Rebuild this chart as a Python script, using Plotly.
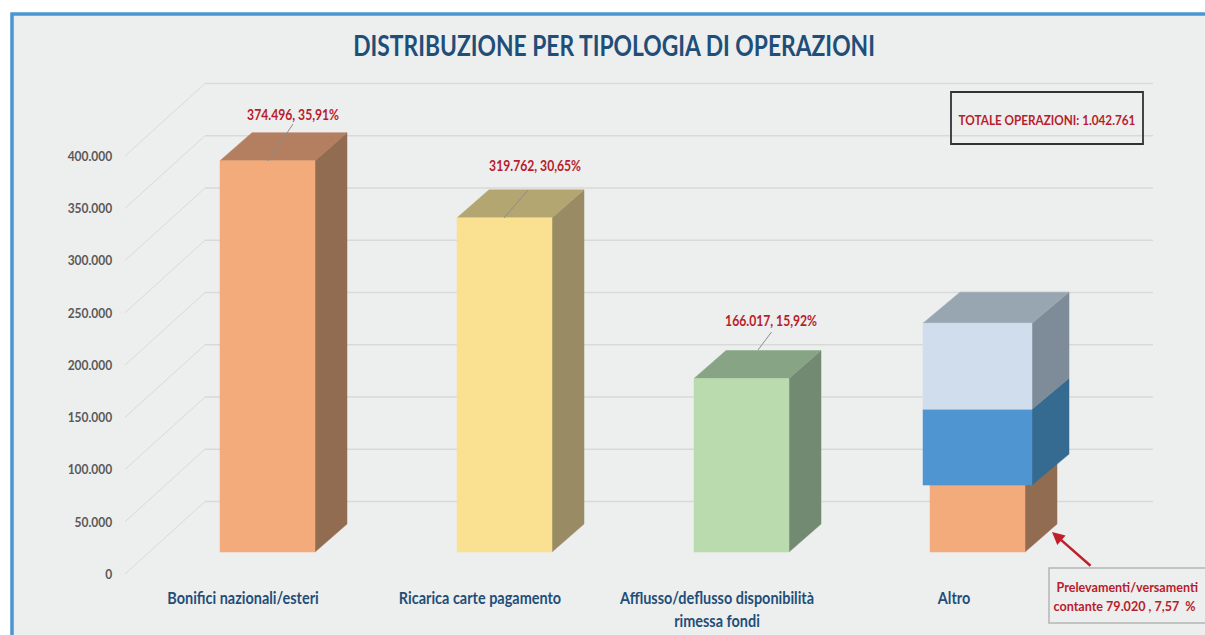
import plotly.graph_objects as go

# ---------- data ----------
categories = ["Bonifici nazionali/esteri", "Ricarica carte pagamento",
              "Afflusso/deflusso disponibilità<br>rimessa fondi", "Altro"]
single_values = [374496, 319762, 166017]
single_labels = ["374.496, 35,91%", "319.762, 30,65%", "166.017, 15,92%"]
altro_segments = [64000, 72700, 82300]   # heights
axis_values = [0, 50000, 100000, 150000, 200000, 250000, 300000, 350000, 400000]
axis_labels = ["0", "50.000", "100.000", "150.000", "200.000", "250.000", "300.000", "350.000", "400.000"]
title_text = "DISTRIBUZIONE PER TIPOLOGIA DI OPERAZIONI"
total_text = "TOTALE OPERAZIONI: 1.042.761"
note_lines = ["Prelevamenti/versamenti", "contante 79.020 , 7,57  %"]

# ---------- styles ----------
single_faces = [("#f4ab7c", "#926c50", "#b47f60"),
                ("#fae191", "#998c64", "#b4a671"),
                ("#b9dbae", "#728a72", "#87a585")]
altro_faces = [("#f4ab7c", "#926c50", "#b47f60"),
               ("#4f95d2", "#356b90", "#356b90"),
               ("#d0dded", "#7e8b98", "#98a6b2")]
FONT = "Lato"
RED = "#b81d2c"
NAVY = "#1f4e79"
W, H = 1205, 635
L, B = 125, 58
PX_X = 237.0
PX_Y = 1.045 / 1000


def X(px):
    return (px - 243) / PX_X


def DY(px):
    return px / PX_Y


def Y(py):
    return (574 - py) / PX_Y


BACK_DX, BACK_DY = 80 / PX_X, DY(72.5)
BASE_DY = DY(22)
BAR_SHIFT = 24.5 / PX_X
BAR_W = 95 / PX_X
BAR_DX, BAR_DY = 32 / PX_X, DY(28)
TOP_W = 109 / PX_X
TOP_DX, TOP_DY = 37 / PX_X, DY(31)

fig = go.Figure()


def poly(xs, ys, color):
    fig.add_trace(go.Scatter(x=xs + xs[:1], y=ys + ys[:1], mode="lines", fill="toself",
                             fillcolor=color, line=dict(color=color, width=0.5),
                             hoverinfo="skip", showlegend=False))


def box(cx, w, lo, hi, dx, dy, faces, with_top=True):
    front, side, top = faces
    x0, x1 = cx - w / 2, cx + w / 2
    lo, hi = lo + BASE_DY, hi + BASE_DY
    poly([x1, x1 + dx, x1 + dx, x1], [lo, lo + dy, hi + dy, hi], side)
    if with_top:
        poly([x0, x1, x1 + dx, x0 + dx], [hi, hi, hi + dy, hi + dy], top)
    poly([x0, x1, x1, x0], [lo, lo, hi, hi], front)


# gridlines: oblique floor/side segment plus the back wall
x_left, x_back, x_right = X(125), X(125) + BACK_DX, X(1153)
for v in axis_values:
    fig.add_trace(go.Scatter(x=[x_left, x_back], y=[v, v + BACK_DY], mode="lines",
                             line=dict(color="#d9d9d9", width=1), hoverinfo="skip", showlegend=False))
    fig.add_trace(go.Scatter(x=[x_back, x_right], y=[v + BACK_DY, v + BACK_DY], mode="lines",
                             line=dict(color="#d9d9d9", width=1.4), hoverinfo="skip", showlegend=False))

# single bars
for i, v in enumerate(single_values):
    box(i + BAR_SHIFT, BAR_W, 0, v, BAR_DX, BAR_DY, single_faces[i])

# stacked "Altro"
c3 = 3 + (977.5 - 954) / PX_X
lo0 = altro_segments[0]
lo1 = lo0 + altro_segments[1]
lo2 = lo1 + altro_segments[2]
box(c3, BAR_W, 0, lo0, BAR_DX, BAR_DY, altro_faces[0], with_top=False)
box(c3, TOP_W, lo0, lo1, TOP_DX, TOP_DY, altro_faces[1], with_top=False)
box(c3, TOP_W, lo1, lo2, TOP_DX, TOP_DY, altro_faces[2])

PLOT_H = H - B
PLOT_W = W - L


def PXx(px):
    return (px - L) / PLOT_W


def PXy(py):
    return (PLOT_H - py) / PLOT_H


# leader lines and value labels
label_px = [(292.5, 114), (535, 165.5), (771, 320)]
leaders = [((293, 124), (268, 161)), ((528, 190), (504, 218)), ((771.5, 332), (758, 350))]
annotations = []
for (lx, ly), (a, b), text in zip(label_px, leaders, single_labels):
    fig.add_trace(go.Scatter(x=[X(a[0]), X(b[0])], y=[Y(a[1]), Y(b[1])], mode="lines",
                             line=dict(color="#8c8c8c", width=1), hoverinfo="skip", showlegend=False))
    annotations.append(dict(x=X(lx), y=Y(ly), xref="x", yref="y", text=text, showarrow=False,
                            font=dict(family=FONT, size=14.3, weight=700, color=RED)))

annotations += [
    dict(x=X(613.5), y=Y(45), xref="x", yref="y", text=title_text, showarrow=False,
         font=dict(family=FONT, size=28, weight=700, color=NAVY)),
    dict(x=X(1047), y=Y(119), xref="x", yref="y", text=total_text, showarrow=False,
         font=dict(family=FONT, size=13.8, weight=700, color=RED)),
    dict(x=PXx(1127), y=PXy(587), xref="paper", yref="paper", xanchor="center", yanchor="middle",
         text=note_lines[0], showarrow=False, font=dict(family=FONT, size=13, weight=700, color=RED)),
    dict(x=PXx(1125), y=PXy(606), xref="paper", yref="paper", xanchor="center", yanchor="middle",
         text=note_lines[1], showarrow=False, font=dict(family=FONT, size=13, weight=700, color=RED)),
    dict(x=X(1052), y=Y(532), xref="x", yref="y", ax=40, ay=35, axref="pixel", ayref="pixel", text="",
         showarrow=True, arrowhead=2, arrowsize=1, arrowwidth=2.5, arrowcolor="#c0202a"),
]

shapes = [
    dict(type="rect", xref="paper", yref="paper", layer="below",
         x0=PXx(12), x1=PXx(1230), y0=PXy(14), y1=PXy(660),
         fillcolor="#edeeee", line=dict(color="#4a96d2", width=3.5)),
    dict(type="rect", xref="paper", yref="paper", layer="above",
         x0=PXx(951), x1=PXx(1143), y0=PXy(92), y1=PXy(144),
         line=dict(color="#2f3336", width=1.8)),
    dict(type="rect", xref="paper", yref="paper", layer="above",
         x0=PXx(1049), x1=PXx(1230), y0=PXy(568), y1=PXy(623),
         line=dict(color="#b5b5b5", width=1.5)),
]

fig.update_layout(
    width=W, height=H, margin=dict(l=L, r=0, t=0, b=B, pad=0),
    paper_bgcolor="white", plot_bgcolor="rgba(0,0,0,0)", showlegend=False,
    shapes=shapes, annotations=annotations, font=dict(family=FONT),
    xaxis=dict(range=[X(L), X(W)], showgrid=False, zeroline=False, showline=False,
               tickmode="array", tickvals=[0, 1, 2, 3], ticktext=categories,
               ticks="outside", ticklen=6, tickcolor="rgba(0,0,0,0)",
               tickfont=dict(family=FONT, size=17, weight=700, color=NAVY)),
    yaxis=dict(range=[Y(PLOT_H), Y(0)], showgrid=False, zeroline=False, showline=False,
               tickmode="array", tickvals=axis_values, ticktext=axis_labels,
               ticks="outside", ticklen=9, tickcolor="rgba(0,0,0,0)",
               tickfont=dict(family=FONT, size=14.1, weight=700, color="#595959")),
)

# The reference face is narrower than any installed one: condense the real text horizontally.
condense = """
document.body.style.margin='0';
function condense(){
  document.querySelectorAll('.annotation-text, .xtick text, .ytick text').forEach(function(t){
    var s = t.textContent;
    var f = s.indexOf('DISTRIBUZIONE')===0 ? 0.815 :
            (s.indexOf('Prelevamenti')===0 || s.indexOf('contante')===0) ? 0.965 : 0.85;
    var lines = t.querySelectorAll('tspan.line');
    var items = lines.length ? Array.from(lines) : [t];
    items.forEach(function(el){
      if(!el.hasAttribute('textLength')){
        el.setAttribute('textLength', String(el.getComputedTextLength()*f));
        el.setAttribute('lengthAdjust','spacingAndGlyphs');
      }
    });
  });
}
condense();
setTimeout(condense,50);
"""
fig.write_html("out.html", config={"displayModeBar": False}, post_script=condense)
